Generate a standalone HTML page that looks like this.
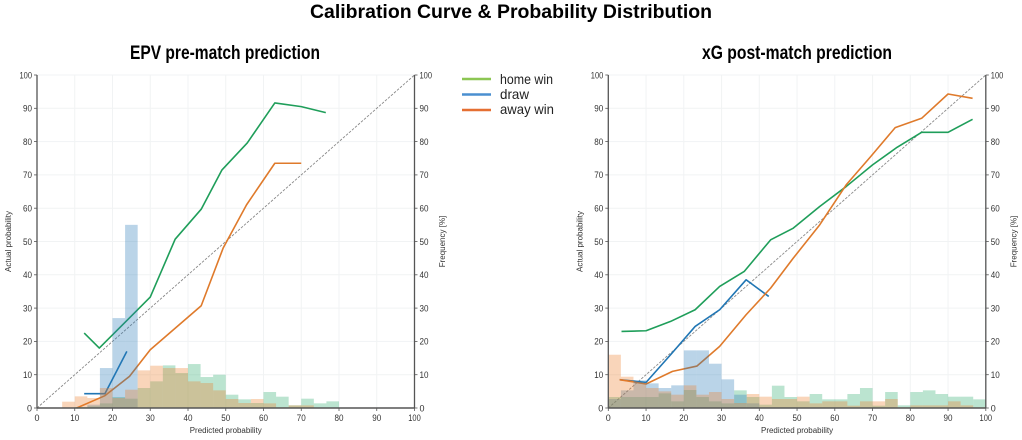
<!DOCTYPE html>
<html lang="en">
<head>
<meta charset="utf-8">
<title>Calibration Curve &amp; Probability Distribution</title>
<style>
html,body{margin:0;padding:0;background:#fff;width:1022px;height:440px;overflow:hidden}
svg{display:block}
text{font-family:"Liberation Sans",sans-serif;fill:#333}
.tick{font-size:9.5px}
.axis-title{font-size:8px}
</style>
</head>
<body>
<svg id="chart" width="1022" height="440" viewBox="0 0 1022 440" xmlns="http://www.w3.org/2000/svg">
  <text x="511" y="18" text-anchor="middle" font-size="19" font-weight="bold" style="fill:#000" textLength="402" lengthAdjust="spacingAndGlyphs">Calibration Curve &amp; Probability Distribution</text>
  <text x="225" y="59" text-anchor="middle" font-size="19" font-weight="bold" style="fill:#000" textLength="190" lengthAdjust="spacingAndGlyphs">EPV pre-match prediction</text>
  <text x="797" y="59" text-anchor="middle" font-size="19" font-weight="bold" style="fill:#000" textLength="190" lengthAdjust="spacingAndGlyphs">xG post-match prediction</text>
  <g>
    <line x1="462" x2="491" y1="79" y2="79" stroke="#8cc653" stroke-width="2.5"/>
    <text x="500" y="84" font-size="14" style="fill:#222" textLength="53" lengthAdjust="spacingAndGlyphs">home win</text>
    <line x1="462" x2="491" y1="94.500" y2="94.500" stroke="#4a8fd0" stroke-width="2.5"/>
    <text x="500" y="99" font-size="14" style="fill:#222" textLength="29" lengthAdjust="spacingAndGlyphs">draw</text>
    <line x1="462" x2="491" y1="110" y2="110" stroke="#e56f32" stroke-width="2.5"/>
    <text x="500" y="114" font-size="14" style="fill:#222" textLength="54" lengthAdjust="spacingAndGlyphs">away win</text>
  </g>
</svg>
<script>
const axisTicks = [0, 10, 20, 30, 40, 50, 60, 70, 80, 90, 100];
const binCount = 30;

const leftHomeHist = [0,0,0,0.3,0.5,1.4,3.3,2.8,6,8,12.8,10.5,13.2,9.3,10,4,2.6,1.5,4.8,3.4,0.8,2.8,1.4,2,0,0,0,0,0,0];
const leftDrawHist = [0,0,0,0,1,12,27,55,0,0,0,0,0,0,0,0,0,0,0,0,0,0,0,0,0,0,0,0,0,0];
const leftAwayHist = [0,0,1.9,3.5,3,6,3,5.5,11.3,12.7,12,12,8,7.5,5.3,2.7,1.5,2.7,1.4,0.2,0.8,0.8,0,0,0,0,0,0,0,0];

const rightHomeHist = [3.3,3.3,3.3,3.3,4.4,2,5.4,3.3,2,1.4,5.3,3.3,1,6.7,3.3,2,4.2,2.6,2.6,4.2,6,0.7,4.8,0.8,4.8,5.3,4.2,3.4,3.4,2.6];
const rightDrawHist = [2.7,5.3,8.3,7.4,6,6.8,17.3,17.3,13.3,8.6,4,1.4,0.2,0,0,0,0,0,0,0,0,0,0,0,0,0,0,0,0,0];
const rightAwayHist = [16,9.4,7.5,6,5,4,6.8,4,4.8,2.7,1.5,4.2,3.4,2.7,2.7,3.4,1.4,2,2,0.7,2,2,2.7,0.2,0.8,0.8,0.8,2,0.8,0.2];

const leftHomeX = [12.5,16.5,30,36.6,43.5,49,55.7,63,70,76.5];
const leftHomeY = [22.5,18,33.3,50.7,59.7,71.5,79.6,91.6,90.5,88.7];
const leftDrawX = [12.5,18,23.8];
const leftDrawY = [4.3,4.3,17];
const leftAwayX = [10.5,18,24.5,30,43.5,49.3,55.5,63,70];
const leftAwayY = [0,3.7,9.5,17.5,30.7,48,61,73.5,73.5];

const rightHomeX = [3.5,10,16.5,23,29.5,36,43,49,56,63,70,76.5,83,90,96.5];
const rightHomeY = [23,23.2,26,29.5,36.5,41,50.5,54,60.5,66.5,73,78.3,82.8,82.8,86.7];
const rightDrawX = [3,10,16.5,23,29.5,36.5,42.5];
const rightDrawY = [8.5,7.7,16,24.5,29.5,38.5,33.5];
const rightAwayX = [3,10,17,23.5,29.5,36.5,43,49,56,63,69.5,76,83,90,96.5];
const rightAwayY = [8.5,7.2,11,12.6,18.5,28,36,45,55,67,75.5,84.2,87,94.3,93];

const NS = 'http://www.w3.org/2000/svg';
const root = document.getElementById('chart');
const plotTop = 75, plotBottom = 408, plotWidth = 377.5;
const histColors = {home:'rgba(44,170,110,0.32)', draw:'rgba(40,120,185,0.32)', away:'rgba(235,125,40,0.32)'};
const lineColors = {home:'#1f9e5a', draw:'#2076b4', away:'#df7a2b'};

function yScale(v){ return plotBottom - v * (plotBottom - plotTop) / 100; }

function make(tag, attrs, parent){
  const el = document.createElementNS(NS, tag);
  for (const k in attrs) el.setAttribute(k, attrs[k]);
  parent.appendChild(el);
  return el;
}

function tickWidth(t){
  const s = String(t);
  return s.length === 3 ? 12.5 : (s.length === 2 ? 9 : 5);
}

function drawPanel(prefix, x0, series){
  const xScale = v => x0 + v * plotWidth / 100;
  const panel = make('g', {}, root);
  
  

  axisTicks.forEach(t => {
    const gv = make('line', {x1:xScale(t), x2:xScale(t), y1:plotTop, y2:plotBottom, stroke:'#f1f3f4', 'stroke-width':1}, panel);
    
    
    const gh = make('line', {x1:x0, x2:xScale(100), y1:yScale(t), y2:yScale(t), stroke:'#f1f3f4', 'stroke-width':1}, panel);
    
    
  });

  const diag = make('line', {x1:xScale(0), y1:yScale(0), x2:xScale(100), y2:yScale(100), stroke:'#8a8a8a', 'stroke-width':0.9, 'stroke-dasharray':'2.6 1.4'}, panel);
  
  

  ['home','draw','away'].forEach(key => {
    const xs = series[key].x, ys = series[key].y;
    const pts = xs.map((x, i) => xScale(x).toFixed(2) + ',' + yScale(ys[i]).toFixed(2)).join(' ');
    const l = make('polyline', {points:pts, fill:'none', stroke:lineColors[key], 'stroke-width':1.6, 'stroke-linejoin':'round'}, panel);
    
    
  });

  ['home','draw','away'].forEach(key => {
    const hist = series[key].hist;
    const w = 100 / binCount;
    hist.forEach((v, i) => {
      if (v <= 0) return;
      const r = make('rect', {x:xScale(i * w), width:xScale((i + 1) * w) - xScale(i * w), y:yScale(v), height:plotBottom - yScale(v), fill:histColors[key]}, panel);
      
      
    });
  });

  const spineL = make('line', {x1:x0, x2:x0, y1:plotTop, y2:plotBottom, stroke:'#555', 'stroke-width':1.3}, panel);
  
  
  const spineR = make('line', {x1:xScale(100), x2:xScale(100), y1:plotTop, y2:plotBottom, stroke:'#555', 'stroke-width':1.3}, panel);
  
  
  const spineB = make('line', {x1:x0, x2:xScale(100), y1:plotBottom, y2:plotBottom, stroke:'#555', 'stroke-width':1.5}, panel);
  
  

  axisTicks.forEach(t => {
    const tb = make('line', {x1:xScale(t), x2:xScale(t), y1:plotBottom, y2:plotBottom + 3, stroke:'#555', 'stroke-width':0.8}, panel);
    
    
    const tl = make('line', {x1:x0 - 3, x2:x0, y1:yScale(t), y2:yScale(t), stroke:'#555', 'stroke-width':0.8}, panel);
    
    
    const tr = make('line', {x1:xScale(100), x2:xScale(100) + 3, y1:yScale(t), y2:yScale(t), stroke:'#555', 'stroke-width':0.8}, panel);
    
    

    const common = {class:'tick', lengthAdjust:'spacingAndGlyphs', textLength:tickWidth(t)};
    const xl = make('text', Object.assign({x:xScale(t), y:plotBottom + 13, 'text-anchor':'middle'}, common), panel);
    xl.textContent = t;
    
    
    const yl = make('text', Object.assign({x:x0 - 5, y:yScale(t) + 3.3, 'text-anchor':'end'}, common), panel);
    yl.textContent = t;
    
    
    const yr = make('text', Object.assign({x:xScale(100) + 5, y:yScale(t) + 3.3, 'text-anchor':'start'}, common), panel);
    yr.textContent = t;
    
    
  });

  const xt = make('text', {x:xScale(50), y:433, 'text-anchor':'middle', class:'axis-title', textLength:72, lengthAdjust:'spacingAndGlyphs'}, panel);
  xt.textContent = 'Predicted probability';
  
  
  const lx = x0 - 26, rx = xScale(100) + 30.5, cy = 241.5;
  const yt = make('text', {x:lx, y:cy, 'text-anchor':'middle', class:'axis-title', transform:'rotate(-90 ' + lx + ' ' + cy + ')'}, panel);
  yt.textContent = 'Actual probability';
  
  
  const yf = make('text', {x:rx, y:cy, 'text-anchor':'middle', class:'axis-title', transform:'rotate(-90 ' + rx + ' ' + cy + ')'}, panel);
  yf.textContent = 'Frequency [%]';
  
  
}

drawPanel('epv', 37, {
  home:{hist:leftHomeHist, x:leftHomeX, y:leftHomeY},
  draw:{hist:leftDrawHist, x:leftDrawX, y:leftDrawY},
  away:{hist:leftAwayHist, x:leftAwayX, y:leftAwayY}
});
drawPanel('xg', 608.3, {
  home:{hist:rightHomeHist, x:rightHomeX, y:rightHomeY},
  draw:{hist:rightDrawHist, x:rightDrawX, y:rightDrawY},
  away:{hist:rightAwayHist, x:rightAwayX, y:rightAwayY}
});
</script>
</body>
</html>
